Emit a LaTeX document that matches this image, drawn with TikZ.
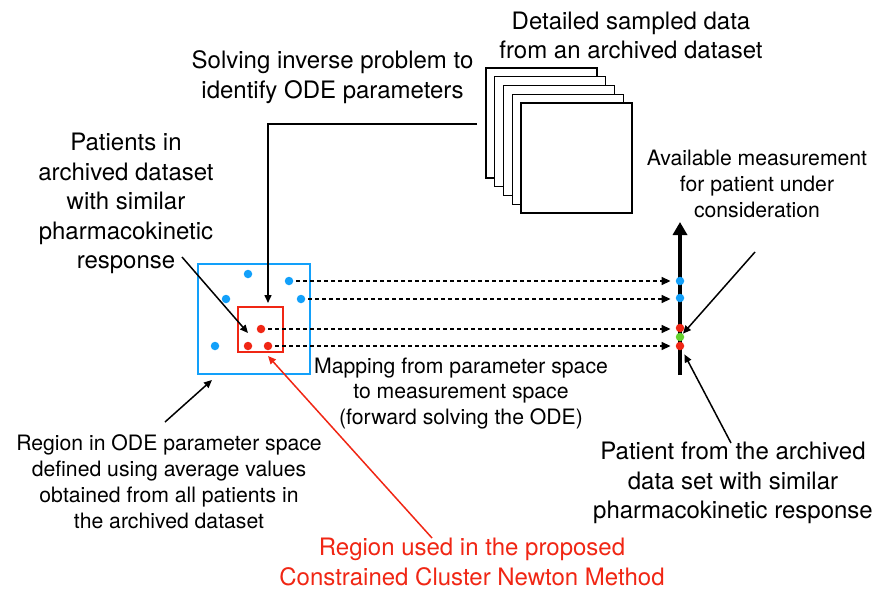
\documentclass[tikz,border=0pt]{standalone}
\usepackage{fontspec}
\setmainfont{TeX Gyre Heros}
\usepackage{tikz}
\usetikzlibrary{arrows.meta,positioning,calc}

\definecolor{parblue}{RGB}{18,160,250}
\definecolor{regred}{RGB}{240,38,20}
\definecolor{patgreen}{RGB}{100,210,45}

\begin{document}
\begin{tikzpicture}[
  x=1pt, y=-1pt,
  bigtxt/.style={align=center, inner sep=0pt, font=\fontsize{24}{29.4}\selectfont},
  smalltxt/.style={align=center, inner sep=0pt, font=\fontsize{21.2}{25.9}\selectfont},
  sheet/.style={draw, fill=white, line width=1.4pt, minimum width=111, minimum height=110, inner sep=0pt},
  dot/.style={circle, inner sep=0pt, minimum size=8.5, fill=#1},
  ptr/.style={line width=1.5pt, -{Triangle[length=8pt,width=7pt]}},
  maparrow/.style={line width=1.6pt, dash pattern=on 4pt off 3pt, -{Triangle[length=9pt,width=8pt]}, shorten <=3pt, shorten >=5pt}
]
\useasboundingbox (0,0) rectangle (879,589);

% Stack of archived data sheets
\foreach \i in {0,...,4} {
  \node[sheet] (sheet\i) at (541.5+8.75*\i, 123+8.75*\i) {};
}

% Parameter space regions
\node[draw=parblue, line width=2pt, minimum width=112, minimum height=110, inner sep=0pt] (parbox) at (254,319) {};
\node[draw=regred, line width=2pt, minimum width=45, minimum height=45, inner sep=0pt] (redbox) at (260.5,329.5) {};

% Patients in parameter space
\node[dot=parblue] (b1) at (248,274) {};
\node[dot=parblue] (b2) at (289,281) {};
\node[dot=parblue] (b3) at (226,299) {};
\node[dot=parblue] (b4) at (301,299) {};
\node[dot=parblue] (b5) at (215,346) {};
\node[dot=regred] (r1) at (261,329) {};
\node[dot=regred] (r2) at (248,346) {};
\node[dot=regred] (r3) at (268,346) {};

% Measurement axis
\coordinate (axbot) at (680,375);
\coordinate (axtop) at (680,222);
\draw[line width=4pt, -{Triangle[length=13pt,width=14pt]}] (axbot) -- (axtop);
\node[dot=parblue] (m1) at (680,281) {};
\node[dot=parblue] (m2) at (680,298) {};
\node[dot=regred] (m3) at (680,328) {};
\node[dot=patgreen] (g1) at (680,337) {};
\node[dot=regred] (m4) at (680,346) {};

% Forward mapping
\draw[maparrow] (b2) -- (b2 -| m1.west);
\draw[maparrow] (b4) -- (b4 -| m2.west);
\draw[maparrow] (r1) -- (r1 -| m3.west);
\draw[maparrow] (r3) -- (r3 -| m4.west);

% Labels
\node[bigtxt] (sample) at (631,35.5) {Detailed sampled data\\from an archived dataset};
\node[bigtxt] (inverse) at (332.5,77) {Solving inverse problem to\\identify ODE parameters};
\node[bigtxt] (similar) at (126,203.5) {Patients in\\archived dataset\\with similar\\pharmacokinetic\\response};
\node[smalltxt] (measure) at (757,184) {Available measurement\\for patient under\\consideration};
\node[smalltxt] (avgreg) at (169,481.5) {Region in ODE parameter space\\defined using average values\\obtained from all patients in\\the archived dataset};
\node[smalltxt] (mapping) at (461,393.5) {Mapping from parameter space\\to measurement space\\(forward solving the ODE)};
\node[bigtxt] (archpat) at (733,483) {Patient from the archived\\data set with similar\\pharmacokinetic response};
\node[bigtxt, text=regred] (ccnm) at (472,562) {Region used in the proposed\\Constrained Cluster Newton Method};

% Pointers
\coordinate (invstart) at (477,124);
\coordinate (invend) at (268,307);
\draw[ptr, shorten >=4pt] (invstart) -| (invend);
\coordinate (simstart) at (182,257);
\coordinate (simend) at (248,333);
\draw[ptr] (simstart) -- (simend);
\coordinate (avgstart) at (165,422);
\coordinate (avgend) at (212,380);
\draw[ptr] (avgstart) -- (avgend);
\coordinate (redstart) at (432,538);
\coordinate (redend) at (268,356);
\draw[ptr, regred] (redstart) -- (redend);
\coordinate (msstart) at (755,252);
\draw[ptr] (msstart) -- (g1);
\coordinate (apstart) at (731,443);
\draw[ptr, shorten >=5pt] (apstart) -- (m4);

\end{tikzpicture}
\end{document}
